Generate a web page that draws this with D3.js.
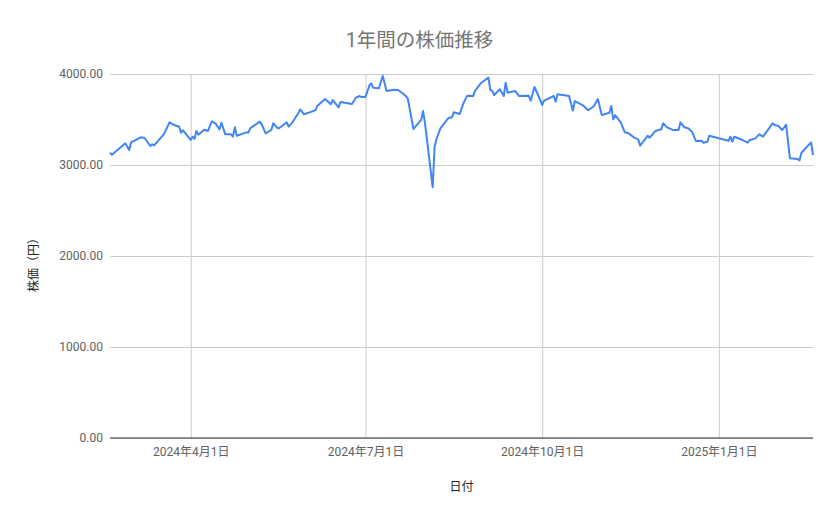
<!DOCTYPE html>
<html>
<head>
<meta charset="utf-8">
<script src="https://cdn.jsdelivr.net/npm/d3@7"></script>
<style>
  body { margin: 0; background: #fff; }
  svg { font-family: Roboto, "Noto Sans CJK JP", sans-serif; }
</style>
</head>
<body>
<svg id="grafica"></svg>
<script>
const svg_w = 839;
const svg_h = 519;
const margin = {l:110, r:26, t:74, b:81};
const viz_w = svg_w - margin.l - margin.r;
const viz_h = svg_h - margin.t - margin.b;

// datos (fecha, precio)
const fechas = [
  "2024-02-19","2024-02-20","2024-02-27","2024-02-29","2024-03-01","2024-03-06","2024-03-08","2024-03-11","2024-03-12","2024-03-13",
  "2024-03-18","2024-03-21","2024-03-23","2024-03-26","2024-03-27","2024-03-28","2024-04-01","2024-04-02","2024-04-03","2024-04-04",
  "2024-04-05","2024-04-08","2024-04-10","2024-04-12","2024-04-14","2024-04-16","2024-04-17","2024-04-19","2024-04-22","2024-04-23",
  "2024-04-24","2024-04-25","2024-04-30","2024-05-01","2024-05-02","2024-05-07","2024-05-08","2024-05-10","2024-05-13","2024-05-14",
  "2024-05-16","2024-05-17","2024-05-21","2024-05-22","2024-05-24","2024-05-27","2024-05-28","2024-05-30","2024-06-03","2024-06-05",
  "2024-06-06","2024-06-10","2024-06-13","2024-06-14","2024-06-17","2024-06-18","2024-06-24","2024-06-26","2024-06-28","2024-06-29",
  "2024-07-01","2024-07-03","2024-07-04","2024-07-05","2024-07-08","2024-07-10","2024-07-12","2024-07-16","2024-07-18","2024-07-21",
  "2024-07-23","2024-07-26","2024-07-28","2024-07-30","2024-07-31","2024-08-01","2024-08-05","2024-08-06","2024-08-07","2024-08-09",
  "2024-08-13","2024-08-15","2024-08-16","2024-08-19","2024-08-21","2024-08-23","2024-08-26","2024-08-27","2024-08-30","2024-09-03",
  "2024-09-04","2024-09-05","2024-09-06","2024-09-09","2024-09-11","2024-09-12","2024-09-13","2024-09-17","2024-09-19","2024-09-24",
  "2024-09-25","2024-09-27","2024-09-30","2024-10-01","2024-10-02","2024-10-07","2024-10-08","2024-10-09","2024-10-15","2024-10-17",
  "2024-10-18","2024-10-22","2024-10-25","2024-10-28","2024-10-30","2024-11-01","2024-11-05","2024-11-06","2024-11-07","2024-11-08",
  "2024-11-11","2024-11-13","2024-11-15","2024-11-18","2024-11-20","2024-11-21","2024-11-25","2024-11-26","2024-11-29","2024-12-02",
  "2024-12-03","2024-12-05","2024-12-08","2024-12-11","2024-12-12","2024-12-14","2024-12-16","2024-12-18","2024-12-20","2024-12-23",
  "2024-12-24","2024-12-26","2024-12-27","2025-01-01","2025-01-06","2025-01-07","2025-01-08","2025-01-09","2025-01-12","2025-01-16",
  "2025-01-17","2025-01-20","2025-01-22","2025-01-24","2025-01-29","2025-01-30","2025-02-01","2025-02-03","2025-02-05","2025-02-07",
  "2025-02-11","2025-02-12","2025-02-13","2025-02-18","2025-02-19"
];
const precios = [
  3135,3113,3238,3165,3249,3304,3297,3209,3227,3216,
  3337,3469,3443,3421,3355,3381,3275,3311,3289,3374,
  3333,3388,3374,3480,3454,3392,3465,3337,3337,3311,
  3414,3322,3359,3355,3403,3476,3447,3348,3385,3458,
  3410,3403,3469,3421,3469,3568,3612,3557,3586,3604,
  3652,3725,3667,3714,3634,3692,3670,3740,3758,3747,
  3747,3871,3898,3850,3843,3978,3813,3828,3824,3777,
  3733,3396,3447,3495,3593,3458,2755,3201,3286,3403,
  3513,3524,3579,3560,3678,3762,3758,3813,3898,3960,
  3824,3817,3769,3832,3758,3905,3795,3813,3758,3762,
  3707,3857,3714,3659,3707,3758,3696,3777,3758,3597,
  3703,3659,3601,3648,3725,3549,3575,3648,3502,3549,
  3465,3359,3348,3300,3282,3212,3322,3300,3374,3392,
  3458,3414,3385,3385,3469,3414,3403,3366,3264,3267,
  3245,3256,3322,3293,3267,3311,3256,3311,3286,3245,
  3275,3293,3337,3311,3458,3440,3429,3385,3443,3074,
  3066,3051,3135,3249,3110
];

const y_ticks = [0, 1000, 2000, 3000, 4000];
const x_ticks = ["2024-04-01","2024-07-01","2024-10-01","2025-01-01"];

const titulo = "1年間の株価推移";
const eje_x = "日付";
const eje_y = "株価（円）";

const parse = d3.timeParse("%Y-%m-%d");
const data = fechas.map((f,i) => ({fecha: parse(f), precio: precios[i]}));

let svg = d3.select("#grafica")
  .attr("width", svg_w)
  .attr("height", svg_h);

let x_scale = d3.scaleTime()
  .domain(d3.extent(data, d=>d.fecha))
  .range([0, viz_w]);

let y_scale = d3.scaleLinear()
  .domain([0, 4000])
  .range([viz_h, 0]);

let g = svg.append("g")
  .attr("transform", `translate(${margin.l},${margin.t})`);

// líneas horizontales y etiquetas del eje y
let y_axis = g.append("g")
  .call(d3.axisLeft(y_scale)
    .tickValues(y_ticks)
    .tickSize(-viz_w)
    .tickPadding(7)
    .tickFormat(d3.format(".2f")));
y_axis.select(".domain").remove();
y_axis.selectAll("line").attr("stroke", "#cccccc").attr("stroke-width", 1);
y_axis.selectAll("text")
  .attr("fill", "#616161")
  .style("font-size", "12px")
  .style("font-family", "Roboto, 'Noto Sans CJK JP', sans-serif");

// líneas verticales y etiquetas del eje x
let x_axis = g.append("g")
  .attr("transform", `translate(0,${viz_h})`)
  .call(d3.axisBottom(x_scale)
    .tickValues(x_ticks.map(parse))
    .tickSize(-viz_h)
    .tickPadding(9)
    .tickFormat(d3.timeFormat("%Y年%-m月%-d日")));
x_axis.select(".domain").remove();
x_axis.selectAll("line").attr("stroke", "#cccccc").attr("stroke-width", 1);
x_axis.selectAll("text")
  .attr("fill", "#616161")
  .style("font-size", "12px")
  .style("font-family", "Roboto, 'Noto Sans CJK JP', sans-serif");

// línea base
g.append("line")
  .attr("x1", 0).attr("x2", viz_w)
  .attr("y1", y_scale(0)).attr("y2", y_scale(0))
  .attr("stroke", "#333333")
  .attr("stroke-width", 1.2);

// la serie
let line = d3.line()
  .x(d=>x_scale(d.fecha))
  .y(d=>y_scale(d.precio));

g.append("path")
  .datum(data)
  .attr("d", line)
  .attr("fill", "none")
  .attr("stroke", "#4285f4")
  .attr("stroke-width", 2)
  .attr("stroke-linejoin", "round");

// título
svg.append("text")
  .attr("x", svg_w/2)
  .attr("y", 47)
  .attr("text-anchor", "middle")
  .attr("fill", "#757575")
  .style("font-size", "19.5px")
  .text(titulo);

// etiqueta eje x
svg.append("text")
  .attr("x", margin.l + viz_w/2)
  .attr("y", 491)
  .attr("text-anchor", "middle")
  .attr("fill", "#222222")
  .style("font-size", "12px")
  .text(eje_x);

// etiqueta eje y
svg.append("text")
  .attr("transform", `translate(38,${margin.t + viz_h/2 + 6}) rotate(-90)`)
  .attr("text-anchor", "middle")
  .attr("fill", "#222222")
  .style("font-size", "12px")
  .text(eje_y);
</script>
</body>
</html>
